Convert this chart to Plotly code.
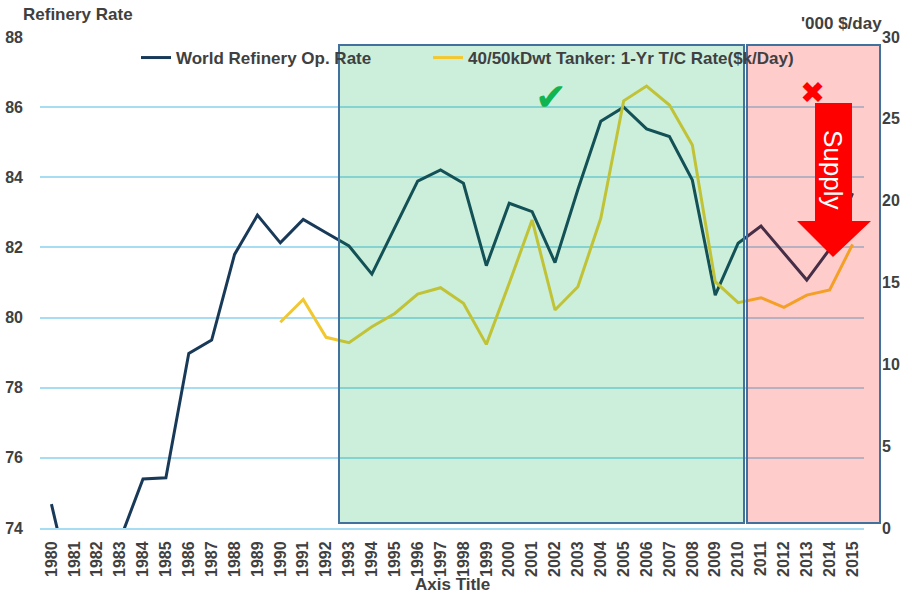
import plotly.graph_objects as go

# ---------------- data ----------------
years = [str(y) for y in range(1980, 2016)]
refinery_rate = [74.68, 71.9, 71.6, 73.67, 75.40, 75.43, 78.98, 79.36, 81.80, 82.92,
                 82.13, 82.80, 82.42, 82.04, 81.24, 82.56, 83.89, 84.21, 83.83, 81.48,
                 83.26, 83.02, 81.57, 83.65, 85.60, 86.00, 85.38, 85.16, 83.92, 80.64,
                 82.12, 82.61, 81.84, 81.07, 81.95, 83.55]
tanker_years = [str(y) for y in range(1990, 2016)]
tanker_rate = [12.57, 13.97, 11.65, 11.32, 12.30, 13.11, 14.29, 14.68, 13.73, 11.22,
               14.95, 18.82, 13.32, 14.74, 18.92, 26.10, 27.00, 25.84, 23.40, 15.05,
               13.77, 14.07, 13.48, 14.23, 14.54, 17.33]
left_ticks = [74, 76, 78, 80, 82, 84, 86, 88]
right_ticks = [0, 5, 10, 15, 20, 25, 30]

# ---------------- geometry helpers ----------------
W, H = 912, 595
L, R, T, B = 40, 864, 37, 528  # plot area in pixels


def px(x):
    return (x - L) / (R - L)


def py(y):
    return (B - y) / (B - T)


TXT = "#404040"
FONT = "Liberation Sans, Arial, sans-serif"
LEG_FONT = dict(family=FONT, size=17, color=TXT, weight="bold")

fig = go.Figure()
fig.add_trace(go.Scatter(
    x=years, y=refinery_rate, name="World Refinery Op. Rate", mode="lines",
    line=dict(color="#183A58", width=3), yaxis="y", legend="legend"))
fig.add_trace(go.Scatter(
    x=tanker_years, y=tanker_rate, name="40/50kDwt Tanker: 1-Yr T/C Rate($k/Day)",
    mode="lines", line=dict(color="#F2C830", width=3), yaxis="y2", legend="legend2"))

shapes = [
    dict(type="rect", xref="paper", yref="paper", x0=px(339), x1=px(744), y0=py(523), y1=py(45),
         fillcolor="rgba(0,176,80,0.2)", line=dict(color="#41719C", width=2), layer="above"),
    dict(type="rect", xref="paper", yref="paper", x0=px(747), x1=px(880), y0=py(523), y1=py(45),
         fillcolor="rgba(255,0,0,0.2)", line=dict(color="#41719C", width=2), layer="above"),
]
# red down arrow
pts = [(815, 103), (852, 103), (852, 221), (871, 221), (833, 257), (797, 221), (815, 221)]
path = "M " + " L ".join(f"{px(a):.5f},{py(b):.5f}" for a, b in pts) + " Z"
shapes.append(dict(type="path", xref="paper", yref="paper", path=path,
                   fillcolor="#FF0000", line=dict(width=0), layer="above"))

annotations = [
    dict(text="Refinery Rate", xref="paper", yref="paper", x=px(21), y=py(15),
         xanchor="left", yanchor="middle", showarrow=False,
         font=dict(family=FONT, size=17, color=TXT, weight="bold")),
    dict(text="'000 $/day", xref="paper", yref="paper", x=px(884), y=py(24),
         xanchor="right", yanchor="middle", showarrow=False,
         font=dict(family=FONT, size=17, color=TXT, weight="bold")),
    dict(text="Axis Title", xref="paper", yref="paper", x=px(452), y=py(584),
         xanchor="center", yanchor="middle", showarrow=False,
         font=dict(family=FONT, size=17, color=TXT, weight="bold")),
    dict(text="✔", xref="paper", yref="paper", x=px(551), y=py(97),
         xanchor="center", yanchor="middle", showarrow=False,
         font=dict(family="DejaVu Sans", size=38, color="#10B450")),
    dict(text="✖", xref="paper", yref="paper", x=px(812), y=py(92),
         xanchor="center", yanchor="middle", showarrow=False,
         font=dict(family="DejaVu Sans", size=30, color="#FF0000")),
    dict(text="Supply", xref="paper", yref="paper", x=px(833), y=py(170),
         xanchor="center", yanchor="middle", showarrow=False, textangle=90,
         font=dict(family=FONT, size=26, color="white")),
]

fig.update_layout(
    width=W, height=H,
    margin=dict(l=L, r=W - R, t=T, b=H - B, pad=0, autoexpand=False),
    paper_bgcolor="white", plot_bgcolor="white",
    font=dict(family=FONT, color=TXT),
    showlegend=True,
    legend=dict(orientation="h", x=px(136), y=py(58), xanchor="left", yanchor="middle",
                bgcolor="rgba(255,255,255,0)", font=LEG_FONT),
    legend2=dict(orientation="h", x=px(428), y=py(58), xanchor="left", yanchor="middle",
                 bgcolor="rgba(255,255,255,0)", font=LEG_FONT),
    xaxis=dict(type="category", range=[-0.5, 35.5], tickangle=-90, automargin=False,
               tickfont=dict(family=FONT, size=16, color=TXT, weight="bold"),
               showgrid=False, showline=True, linecolor="#A6DDF2", linewidth=2,
               ticks="", ticklabelstandoff=5, fixedrange=True),
    yaxis=dict(range=[74, 88], tickvals=left_ticks, showgrid=True, automargin=False,
               gridcolor="#A6DDF2", gridwidth=1.5, zeroline=False,
               tickfont=dict(family=FONT, size=16, color=TXT, weight="bold"),
               ticks="", ticklabelstandoff=16, fixedrange=True),
    yaxis2=dict(range=[0, 30], tickvals=right_ticks, overlaying="y", side="right",
                showgrid=False, zeroline=False, automargin=False,
                tickfont=dict(family=FONT, size=16, color=TXT, weight="bold"),
                ticks="", ticklabelstandoff=17, fixedrange=True),
    shapes=shapes,
    annotations=annotations,
)

fig.write_html("out.html", config={"displayModeBar": False},
               post_script="document.body.style.margin='0';")
